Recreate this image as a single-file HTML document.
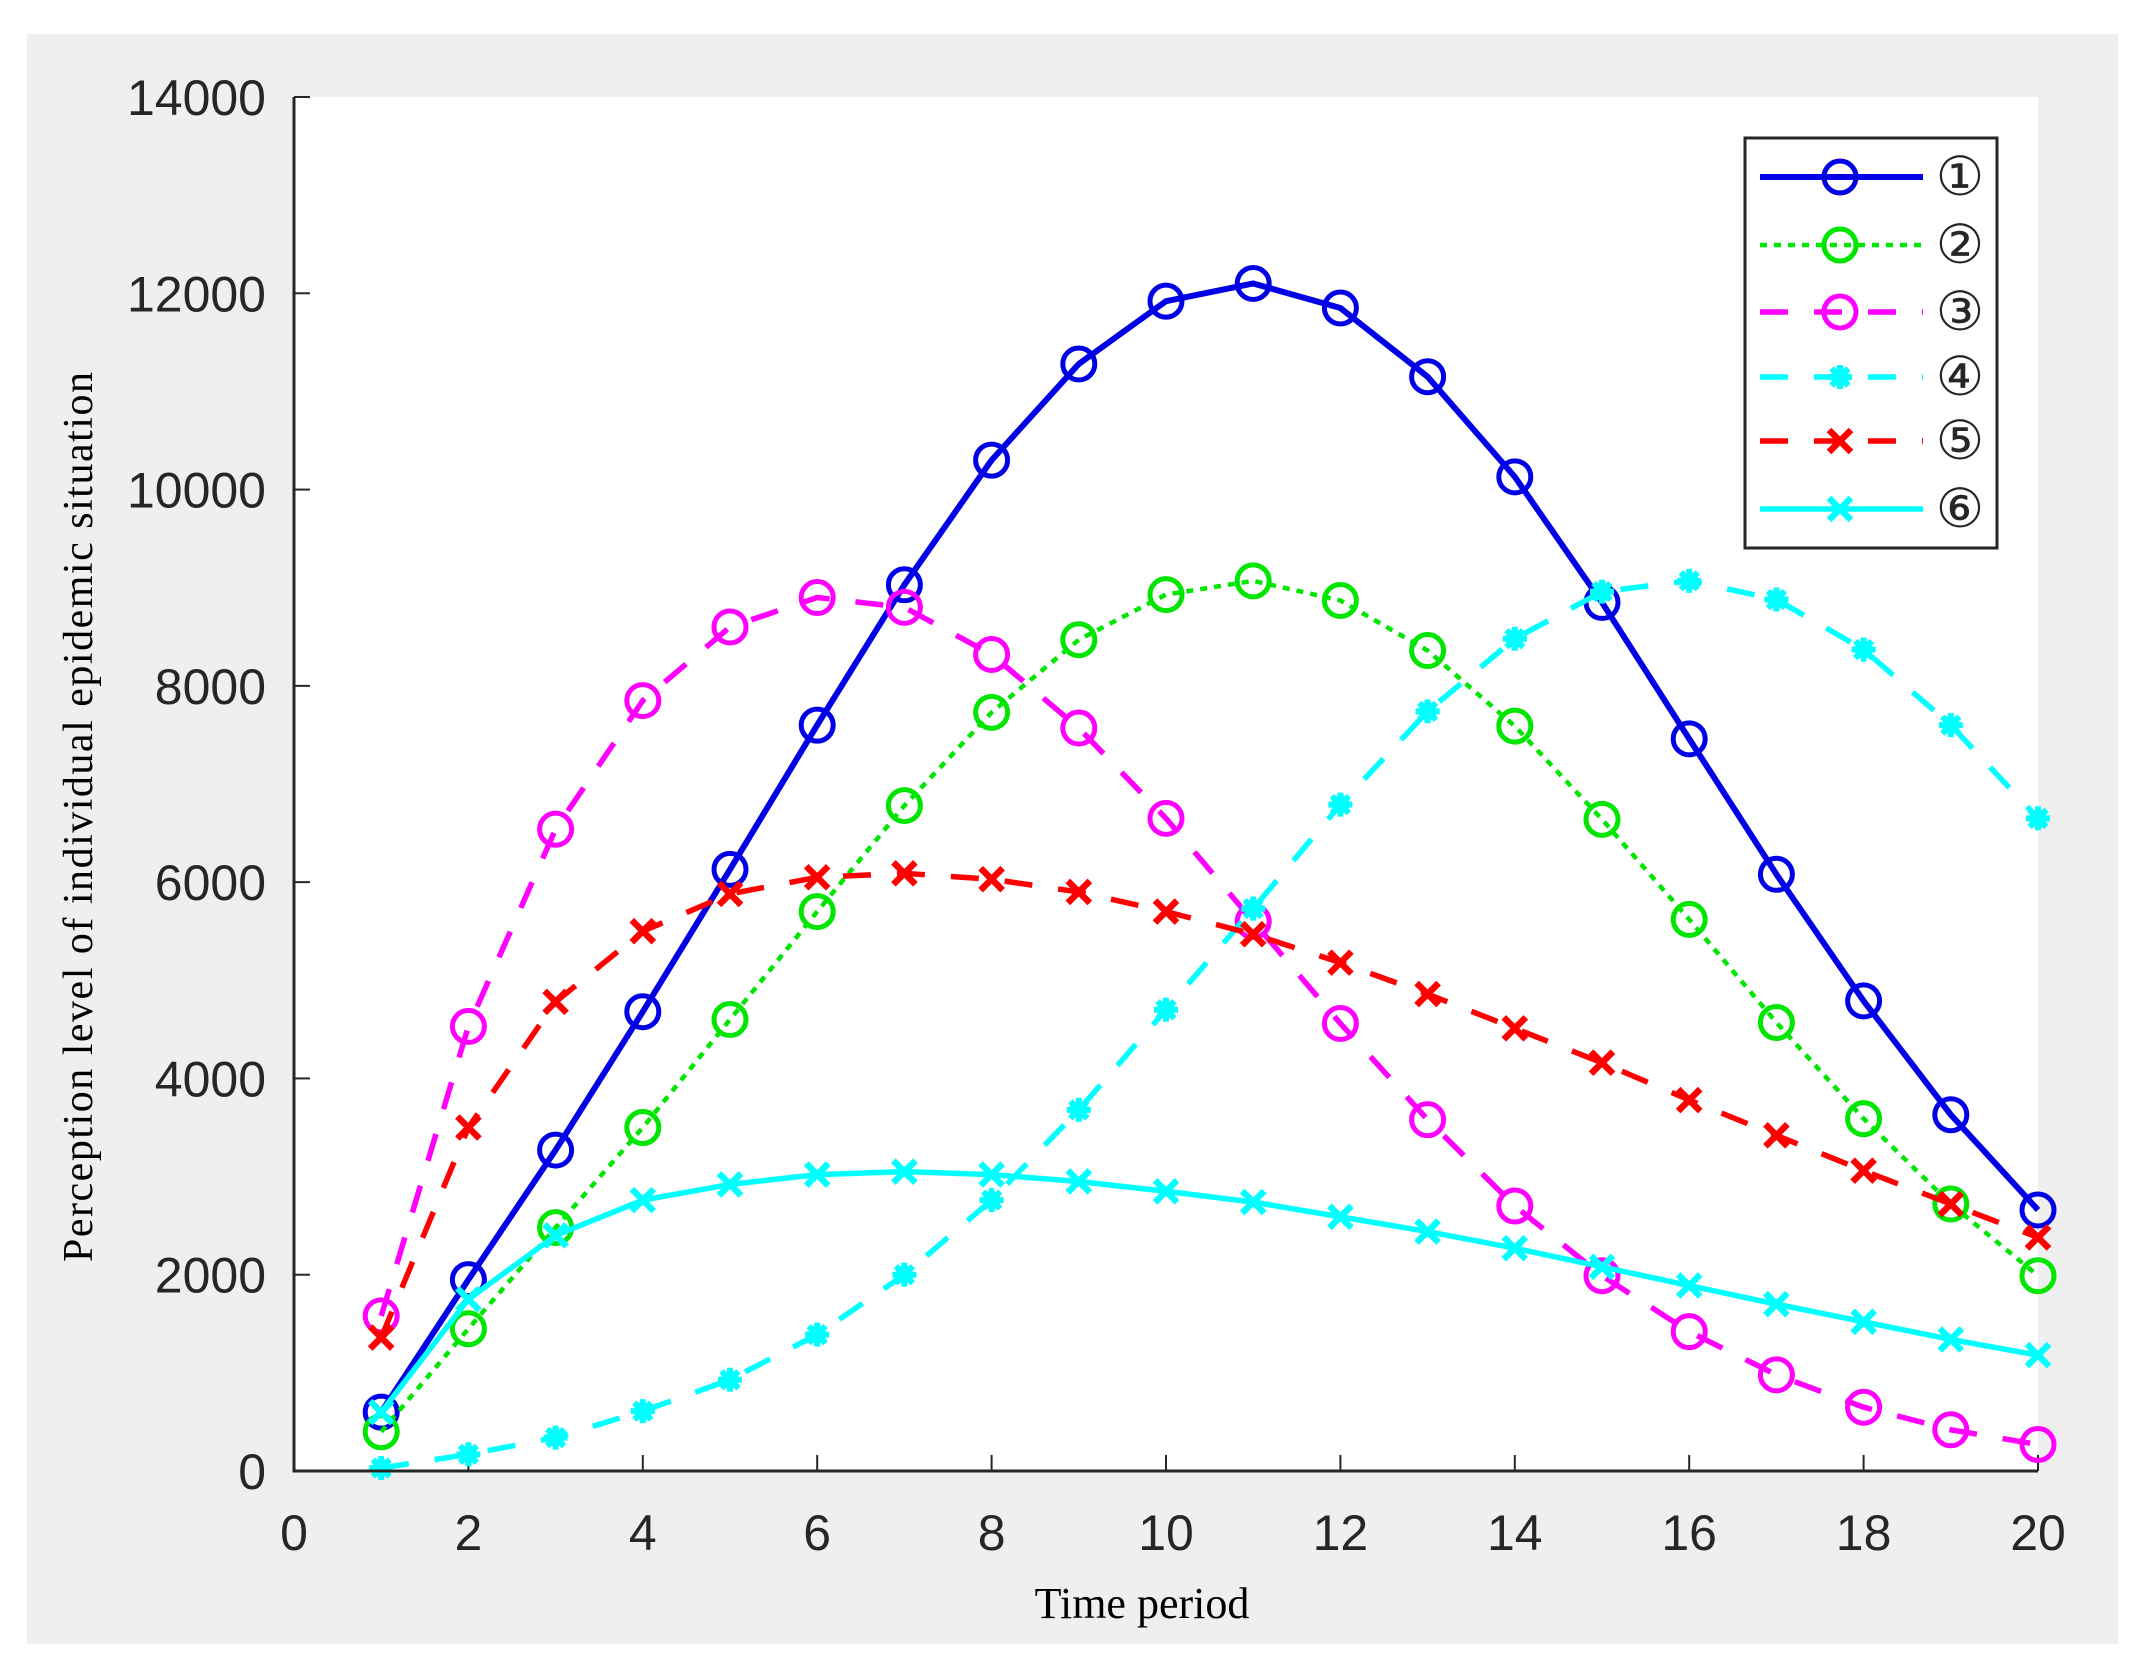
<!DOCTYPE html>
<html><head><meta charset="utf-8"><style>
html,body{margin:0;padding:0;background:#fff;}
svg{display:block;}
</style></head><body>
<svg id="chart" width="2147" height="1672" xmlns="http://www.w3.org/2000/svg">
<rect x="27" y="34" width="2091" height="1610" fill="#efefef"/>
<rect x="294" y="97" width="1744" height="1374" fill="#fff"/>
<g id="grid"></g>
<g id="series"></g>
<path d="M294 97 V1471 H2038" fill="none" stroke="#262626" stroke-width="3"/>
<text x="1142" y="1618" font-family="Liberation Serif, serif" font-size="44" text-anchor="middle" fill="#000">Time period</text>
<text transform="translate(92,817) rotate(-90)" font-family="Liberation Serif, serif" font-size="42" text-anchor="middle" fill="#000" textLength="890">Perception level of individual epidemic situation</text>
<g id="legend">
<rect x="1745" y="138" width="252" height="410" fill="#fff" stroke="#262626" stroke-width="3"/>
</g>
</svg>
<script>
const xTicks=[0,2,4,6,8,10,12,14,16,18,20];
const yTicks=[0,2000,4000,6000,8000,10000,12000,14000];
const periods=[1,2,3,4,5,6,7,8,9,10,11,12,13,14,15,16,17,18,19,20];
const s1=[600,1950,3270,4680,6130,7600,9030,10300,11280,11920,12100,11850,11150,10130,8850,7460,6080,4790,3630,2660];
const s2=[400,1450,2480,3500,4600,5700,6780,7730,8470,8930,9070,8870,8360,7590,6640,5620,4570,3590,2720,1990];
const s3=[1580,4530,6540,7850,8600,8900,8800,8320,7570,6650,5600,4560,3580,2700,1990,1420,980,650,420,270];
const s4=[30,170,340,610,930,1390,2000,2760,3680,4700,5730,6790,7740,8480,8960,9070,8880,8370,7600,6650];
const s5=[1360,3500,4780,5500,5880,6050,6090,6030,5900,5700,5470,5180,4860,4510,4160,3780,3420,3060,2720,2380];
const s6=[600,1750,2400,2760,2920,3020,3050,3020,2950,2850,2740,2590,2440,2270,2080,1890,1700,1520,1340,1180];
const seriesNames=['①','②','③','④','⑤','⑥'];

const NS='http://www.w3.org/2000/svg';
const X=v=>294+v*(2038-294)/20;
const Y=v=>1471-v*(1471-97)/14000;
function mk(tag,attrs,parent){const e=document.createElementNS(NS,tag);for(const k in attrs)e.setAttribute(k,attrs[k]);parent.appendChild(e);return e;}
const grid=document.getElementById('grid');
xTicks.forEach(t=>{
  const l=mk('line',{x1:X(t),x2:X(t),y1:1471,y2:1455,stroke:'#262626','stroke-width':2},grid);
  
  
  const tx=mk('text',{x:X(t),y:1550,'font-family':'Liberation Sans, sans-serif','font-size':50,'text-anchor':'middle',fill:'#262626'},grid);
  tx.textContent=t;
  
  
});
yTicks.forEach(t=>{
  const l=mk('line',{x1:294,x2:310,y1:Y(t),y2:Y(t),stroke:'#262626','stroke-width':2},grid);
  
  
  const tx=mk('text',{x:266,y:Y(t)+18,'font-family':'Liberation Sans, sans-serif','font-size':50,'text-anchor':'end',fill:'#262626'},grid);
  tx.textContent=t;
  
  
});
function poly(pts){return 'M'+pts.map(p=>p[0]+' '+p[1]).join(' L');}
function marker(type,x,y,color,parent){
  const g=mk('g',{},parent);
  if(type==='o'){
    mk('circle',{cx:x,cy:y,r:16,fill:'none',stroke:color,'stroke-width':5},g);
  }else if(type==='*'){
    for(let a=0;a<180;a+=45){const r=a*Math.PI/180;mk('line',{x1:x-12*Math.cos(r),y1:y-12*Math.sin(r),x2:x+12*Math.cos(r),y2:y+12*Math.sin(r),stroke:color,'stroke-width':6},g);}
    mk('circle',{cx:x,cy:y,r:9,fill:color},g);
  }else{
    mk('line',{x1:x-11,y1:y-11,x2:x+11,y2:y+11,stroke:color,'stroke-width':6.5},g);
    mk('line',{x1:x-11,y1:y+11,x2:x+11,y2:y-11,stroke:color,'stroke-width':6.5},g);
  }
  return g;
}
const defs=[
  {d:s1,c:'#0000e6',dash:'',m:'o',w:6},
  {d:s2,c:'#00e600',dash:'7 7',m:'o',w:4.5},
  {d:s3,c:'#ff00ff',dash:'28 26',m:'o',w:5.5},
  {d:s4,c:'#00ffff',dash:'28 26',m:'*',w:5.5},
  {d:s5,c:'#ff0000',dash:'28 26',m:'x',w:5.5},
  {d:s6,c:'#00ffff',dash:'',m:'x',w:5.5}
];
const sg=document.getElementById('series');
defs.forEach((s,i)=>{
  const g=mk('g',{},sg);
  
  
  const pts=periods.map((p,j)=>[X(p),Y(s.d[j])]);
  const path=mk('path',{d:poly(pts),fill:'none',stroke:s.c,'stroke-width':s.w,'stroke-dasharray':s.dash,'stroke-linejoin':'round'},g);
  
  
  pts.forEach(p=>{
    const m=marker(s.m,p[0],p[1],s.c,g);
    
    
  });
});
const lg=document.getElementById('legend');
const rowsY=[177,245,312,377,441,509];
defs.forEach((s,i)=>{
  const g=mk('g',{},lg);
  
  
  mk('line',{x1:1760,x2:1923,y1:rowsY[i],y2:rowsY[i],stroke:s.c,'stroke-width':s.w,'stroke-dasharray':s.dash},g);
  marker(s.m,1840,rowsY[i],s.c,g);
  const t=mk('text',{x:1960,y:rowsY[i]+18,'font-family':'Liberation Serif, DejaVu Serif, serif','font-size':54,'text-anchor':'middle',fill:'#262626'},g);
  t.textContent=seriesNames[i];
});
</script>
</body></html>
